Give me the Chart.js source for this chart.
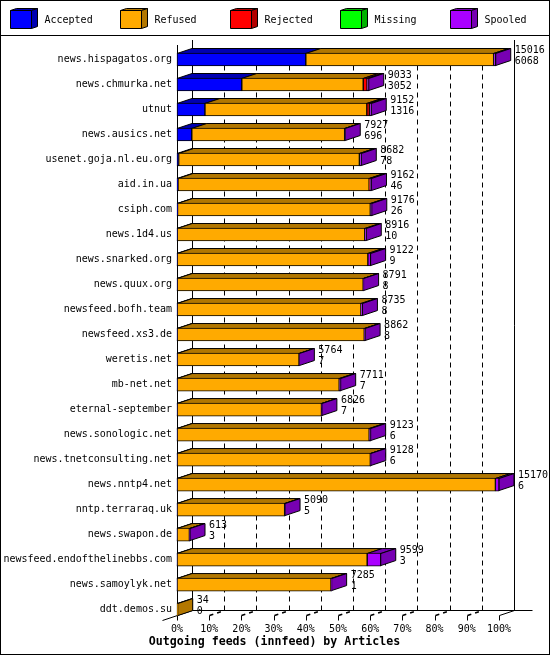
<!DOCTYPE html>
<html><head><meta charset="utf-8">
<script src="https://cdn.jsdelivr.net/npm/chart.js@4"></script>
<style>html,body{margin:0;padding:0;background:#fff}canvas{display:block}</style>
</head><body><canvas id="c" width="550" height="655"></canvas>
<script>
const categories = ["news.hispagatos.org","news.chmurka.net","utnut","news.ausics.net","usenet.goja.nl.eu.org","aid.in.ua","csiph.com","news.1d4.us","news.snarked.org","news.quux.org","newsfeed.bofh.team","newsfeed.xs3.de","weretis.net","mb-net.net","eternal-september","news.sonologic.net","news.tnetconsulting.net","news.nntp4.net","nntp.terraraq.uk","news.swapon.de","newsfeed.endofthelinebbs.com","news.samoylyk.net","ddt.demos.su"];
const totals   = [15016,9033,9152,7927,8682,9162,9176,8916,9122,8791,8735,8862,5764,7711,6826,9123,9128,15170,5090,613,9599,7285,34];
const accepted = [6068,3052,1316,696,78,46,26,10,9,8,8,8,7,7,7,6,6,6,5,3,3,1,0];
const refused  = [8848,5721,7626,7201,8514,9006,9080,8836,8983,8763,8657,8814,5742,7634,6799,9047,9102,14994,5065,580,8956,7254,34];
const rejected = [0,180,120,0,0,50,0,0,0,0,0,0,0,0,0,0,0,0,0,0,0,0,0];
const missing  = [0,0,0,0,0,0,0,0,0,0,0,0,0,0,0,0,0,0,0,0,0,0,0];
const spooled  = [100,80,90,30,90,60,70,70,130,20,70,40,15,70,20,70,20,170,20,30,640,30,0];
const seriesNames = ["Accepted","Refused","Rejected","Missing","Spooled"];
const seriesValues = [accepted,refused,rejected,missing,spooled];
const frontColors = ["#0000ff","#ffaa00","#ff0000","#00ff00","#aa00ff"];
const sideColors  = ["#0000b2","#b27700","#b20000","#00b200","#7700b2"];
const tickLabels = ["0%","10%","20%","30%","40%","50%","60%","70%","80%","90%","100%"];
const axisMax = 15170;
const axisTitle = "Outgoing feeds (innfeed) by Articles";
const MONO = '"DejaVu Sans Mono", "Liberation Mono", monospace';
const DX = 15, DY = 5;

function poly(ctx, pts, fill){
  ctx.beginPath();
  pts.forEach((p,i)=> i ? ctx.lineTo(p[0],p[1]) : ctx.moveTo(p[0],p[1]));
  ctx.closePath();
  if(fill){ctx.fillStyle=fill;ctx.fill();}
  ctx.strokeStyle="#000";ctx.lineWidth=1;ctx.stroke();
}

const frame3d = {
  id:"frame3d",
  beforeDraw(chart){
    // centre the title on the whole picture, not on the plot's box
    if(chart.titleBlock){chart.titleBlock.left=0;chart.titleBlock.right=549;}
  },
  beforeDatasetsDraw(chart){
    const ctx=chart.ctx, xs=chart.scales.x, a=chart.chartArea;
    const floorBack=Math.round(a.bottom)+0.5, floorFront=floorBack+5, top=40;
    ctx.save();
    ctx.strokeStyle="#000";ctx.lineWidth=1;
    xs.ticks.forEach((t,i)=>{
      const fx=Math.round(xs.getPixelForTick(i))+0.5, bx=fx+DX;
      if(i>0 && i<xs.ticks.length-1){
        ctx.setLineDash([5,4]);
        ctx.beginPath();ctx.moveTo(bx,floorBack);ctx.lineTo(bx,top+8);ctx.stroke();
      }
      ctx.setLineDash([]);
      ctx.beginPath();ctx.moveTo(fx,floorFront);ctx.lineTo(fx,floorFront+5);ctx.stroke();
      if(i>0 && i<xs.ticks.length-1){
        ctx.setLineDash([4,4]);
        ctx.lineWidth=1.5;
        ctx.beginPath();ctx.moveTo(fx,floorFront);ctx.lineTo(bx,floorBack);ctx.stroke();
        ctx.lineWidth=1;
        ctx.setLineDash([]);
      }
    });
    const x0=Math.round(xs.getPixelForValue(0))+0.5, x1=Math.round(xs.getPixelForValue(axisMax))+0.5;
    ctx.beginPath();
    ctx.moveTo(x0,45);ctx.lineTo(x0,floorFront);
    ctx.moveTo(x0+DX,top);ctx.lineTo(x0+DX,floorBack);
    ctx.moveTo(x1+DX,top);ctx.lineTo(x1+DX,floorBack);
    ctx.moveTo(x0+DX,floorBack);ctx.lineTo(x1+DX+18,floorBack);
    ctx.moveTo(x0-DX,floorFront+5);ctx.lineTo(x0+DX,floorBack);
    ctx.moveTo(x1,floorFront);ctx.lineTo(x1+DX,floorBack);
    ctx.stroke();
    categories.forEach((c,row)=>{
      let last=null;
      seriesValues.forEach((vals,s)=>{
        const el=chart.getDatasetMeta(s).data[row];
        if(!vals[row]) return;
        const t=el.y-el.height/2+0.5, l=el.base, r=el.x;
        poly(ctx,[[l,t],[l+DX,t-DY],[r+DX,t-DY],[r,t]],sideColors[s]);
        last={s,r,t,b:el.y+el.height/2-0.5};
      });
      if(last){
        poly(ctx,[[last.r,last.t],[last.r+DX,last.t-DY],[last.r+DX,last.b-DY],[last.r,last.b]],sideColors[last.s]);
      }
    });
    ctx.restore();
  },
  afterDatasetsDraw(chart){
    const ctx=chart.ctx, xs=chart.scales.x;
    ctx.save();
    ctx.fillStyle="#000";
    ctx.font="10px "+MONO;
    ctx.textAlign="left";ctx.textBaseline="middle";
    categories.forEach((c,row)=>{
      const x=xs.getPixelForValue(totals[row])+DX+4;
      const y=chart.getDatasetMeta(0).data[row].y;
      ctx.fillText(String(totals[row]),x,y-9);
      ctx.fillText(String(accepted[row]),x,y+2);
    });
    ctx.strokeStyle="#000";ctx.lineWidth=1;
    ctx.beginPath();ctx.moveTo(0,35.5);ctx.lineTo(550,35.5);ctx.stroke();
    ctx.strokeRect(0.5,0.5,549,654);
    seriesNames.forEach((n,i)=>{
      const x=10.5+110*i, y=10.5, w=21, h=18, dx=6, dy=2;
      poly(ctx,[[x,y],[x+dx,y-dy],[x+w+dx,y-dy],[x+w,y]],sideColors[i]);
      poly(ctx,[[x+w,y],[x+w+dx,y-dy],[x+w+dx,y+h-dy],[x+w,y+h]],sideColors[i]);
      poly(ctx,[[x,y],[x+w,y],[x+w,y+h],[x,y+h]],frontColors[i]);
      ctx.fillStyle="#000";
      ctx.fillText(n,44.5+110*i,20);
    });
    ctx.restore();
  }
};

new Chart(document.getElementById("c"),{
  type:"bar",
  data:{
    labels:categories,
    datasets:seriesNames.map((n,i)=>({
      label:n,
      data:seriesValues[i].map(v=>v===0?null:v),
      backgroundColor:frontColors[i],
      borderColor:"#000",
      borderWidth:1,
      borderSkipped:false,
      barThickness:13,
      clip:false
    }))
  },
  options:{
    indexAxis:"y",
    responsive:false,
    animation:false,
    devicePixelRatio:1,
    layout:{padding:{top:59.5,left:0,right:51,bottom:0}},
    plugins:{
      legend:{display:false},tooltip:{enabled:false},
      title:{display:true,position:"bottom",text:axisTitle,color:"#000",
        padding:{top:0,bottom:6},
        font:{family:MONO,size:11.6,weight:"bold",lineHeight:1.2}}
    },
    scales:{
      x:{
        stacked:true,min:0,max:axisMax,
        afterFit(s){s.height=25.5;},
        afterBuildTicks(s){s.ticks=tickLabels.map((l,i)=>({value:axisMax*i/(tickLabels.length-1)}));},
        grid:{display:false,drawTicks:false},border:{display:false},
        ticks:{
          autoSkip:false,maxRotation:0,color:"#000",
          font:{family:MONO,size:10},padding:14,
          callback(v,i){return tickLabels[i];}
        }
      },
      y:{
        stacked:true,offset:false,
        afterFit(s){s.width=177;},
        grid:{display:false,drawTicks:false},border:{display:false},
        ticks:{autoSkip:false,color:"#000",font:{family:MONO,size:10},padding:5}
      }
    }
  },
  plugins:[frame3d]
});
</script></body></html>
